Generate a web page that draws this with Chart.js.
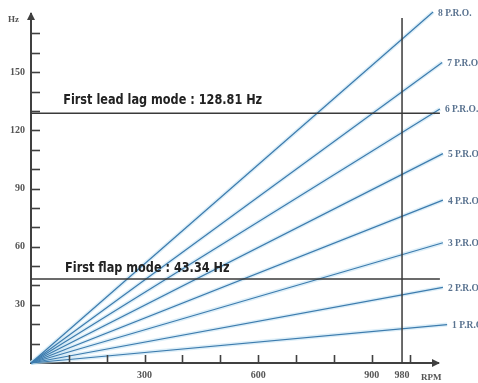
<!DOCTYPE html>
<html>
<head>
<meta charset="utf-8">
<script src="https://cdn.jsdelivr.net/npm/chart.js@4/dist/chart.umd.min.js"></script>
<style>
html,body{margin:0;padding:0;background:#fff;}
canvas{display:block;}
</style>
</head>
<body>
<canvas id="c" width="478" height="383"></canvas>
<script>
// ---- data ----
const orderLabels = ['1 P.R.O.', '2 P.R.O.', '3 P.R.O.', '4 P.R.O.', '5 P.R.O.', '6 P.R.O.', '7 P.R.O.', '8 P.R.O.'];
const orderEndRpm = [1099, 1088, 1088, 1088, 1088, 1080, 1086, 1062];
const orderEndHz  = [19.8, 39, 62, 84, 108, 131, 155, 181];

const modeNames = ['First lead lag mode : 128.81 Hz', 'First flap mode : 43.34 Hz'];
const modeHz = [128.81, 43.34];
const modeEndRpm = [1080, 1080];
const modeTextRpm = [85, 90];
const modeTextHz = [133.6, 47];

const operatingRpm = 980;
const operatingTopHz = 178;

const xTickValues = [100, 200, 300, 400, 500, 600, 700, 800, 900, 1000];
const xLabelValues = [300, 600, 900, 980];
const yTickValues = [10, 20, 30, 40, 50, 60, 70, 80, 90, 100, 110, 120, 130, 140, 150, 160, 170];
const yLabelValues = [30, 60, 90, 120, 150];
const xTitle = 'RPM';
const yTitle = 'Hz';

// ---- datasets ----
const datasets = [];
orderEndRpm.forEach((r, i) => {
  datasets.push({
    label: orderLabels[i] + ' halo',
    data: [{x: 0, y: 0}, {x: r, y: orderEndHz[i]}],
    borderColor: 'rgba(185,222,242,0.5)', borderWidth: 4,
    showLine: true, pointRadius: 0, clip: false, order: 3
  });
});
orderEndRpm.forEach((r, i) => {
  datasets.push({
    label: orderLabels[i],
    data: [{x: 0, y: 0}, {x: r, y: orderEndHz[i]}],
    borderColor: '#3d7cae', borderWidth: 1.2,
    showLine: true, pointRadius: 0, clip: false, order: 2
  });
});
modeHz.forEach((h, i) => {
  datasets.push({
    label: modeNames[i],
    data: [{x: 0, y: h}, {x: modeEndRpm[i], y: h}],
    borderColor: '#3a3a3a', borderWidth: 1.5,
    showLine: true, pointRadius: 0, clip: false, order: 1
  });
});
datasets.push({
  label: 'operating',
  data: [{x: operatingRpm, y: 0}, {x: operatingRpm, y: operatingTopHz}],
  borderColor: '#3a3a3a', borderWidth: 1.5,
  showLine: true, pointRadius: 0, clip: false, order: 1
});

const AXIS = '#404040';
const SERIF = '"Liberation Serif", "DejaVu Serif", serif';

const decor = {
  id: 'decor',
  afterDraw(chart) {
    const ctx = chart.ctx;
    const xs = chart.scales.x, ys = chart.scales.y;
    const x0 = xs.getPixelForValue(0), y0 = ys.getPixelForValue(0);
    ctx.save();
    // inward tick marks
    ctx.strokeStyle = AXIS; ctx.lineWidth = 1.6;
    yTickValues.forEach(v => {
      const y = Math.round(ys.getPixelForValue(v)) + 0.5;
      ctx.beginPath(); ctx.moveTo(x0, y); ctx.lineTo(x0 + 9, y); ctx.stroke();
    });
    xTickValues.forEach(v => {
      const x = Math.round(xs.getPixelForValue(v)) + 0.5;
      ctx.beginPath(); ctx.moveTo(x, y0); ctx.lineTo(x, y0 - 8); ctx.stroke();
    });
    // arrowheads
    ctx.fillStyle = AXIS;
    const yt = chart.chartArea.top;
    ctx.beginPath(); ctx.moveTo(x0, yt - 2); ctx.lineTo(x0 - 4, yt + 6); ctx.lineTo(x0 + 4, yt + 6); ctx.closePath(); ctx.fill();
    const xr = chart.chartArea.right;
    ctx.beginPath(); ctx.moveTo(xr + 2, y0); ctx.lineTo(xr - 6, y0 - 4); ctx.lineTo(xr - 6, y0 + 4); ctx.closePath(); ctx.fill();
    // axis titles
    ctx.fillStyle = '#555';
    ctx.font = 'bold 9px ' + SERIF;
    ctx.textBaseline = 'middle'; ctx.textAlign = 'left';
    ctx.fillText(yTitle, 8, 20);
    ctx.fillText(xTitle, 421, 378);
    // order labels
    ctx.fillStyle = '#5a7390';
    ctx.font = 'bold 9.5px ' + SERIF;
    orderEndRpm.forEach((r, i) => {
      const px = xs.getPixelForValue(r), py = ys.getPixelForValue(orderEndHz[i]);
      ctx.fillText(orderLabels[i], px + 5, py + 1);
    });
    // mode labels (condensed bold sans)
    ctx.fillStyle = '#222';
    ctx.font = 'bold 14px "Liberation Sans Narrow", "DejaVu Sans Condensed", "Liberation Sans", sans-serif';
    ctx.textBaseline = 'alphabetic';
    const sx = Math.min(1, 199 / ctx.measureText(modeNames[0]).width);
    modeNames.forEach((t, i) => {
      const px = xs.getPixelForValue(modeTextRpm[i]), py = ys.getPixelForValue(modeTextHz[i]);
      ctx.save();
      ctx.translate(px, py);
      ctx.scale(sx, 1);
      ctx.fillText(t, 0, 0);
      ctx.restore();
    });
    ctx.restore();
  }
};

new Chart(document.getElementById('c'), {
  type: 'scatter',
  data: { datasets },
  options: {
    responsive: false,
    animation: false,
    layout: { padding: { left: 0, right: 40, top: 14, bottom: 0 } },
    plugins: { legend: { display: false }, tooltip: { enabled: false } },
    scales: {
      x: {
        type: 'linear', min: 0, max: 1075,
        afterBuildTicks(s) { s.ticks = xTickValues.concat([980]).map(v => ({value: v})); },
        afterFit(s) { s.height = 20; },
        grid: { display: false, drawTicks: false },
        border: { display: true, color: AXIS, width: 2 },
        ticks: {
          autoSkip: false, maxRotation: 0, padding: 6,
          color: '#555', font: { family: SERIF, size: 10, weight: 'bold' },
          callback: v => xLabelValues.includes(v) ? String(v) : ''
        }
      },
      y: {
        type: 'linear', min: 0, max: 180,
        afterBuildTicks(s) { s.ticks = yTickValues.map(v => ({value: v})); },
        afterFit(s) { s.width = 31; },
        grid: { display: false, drawTicks: false },
        border: { display: true, color: AXIS, width: 2 },
        ticks: {
          autoSkip: false, padding: 6,
          color: '#555', font: { family: SERIF, size: 10, weight: 'bold' },
          callback: v => yLabelValues.includes(v) ? String(v) : ''
        }
      }
    }
  },
  plugins: [decor]
});
</script>
</body>
</html>
